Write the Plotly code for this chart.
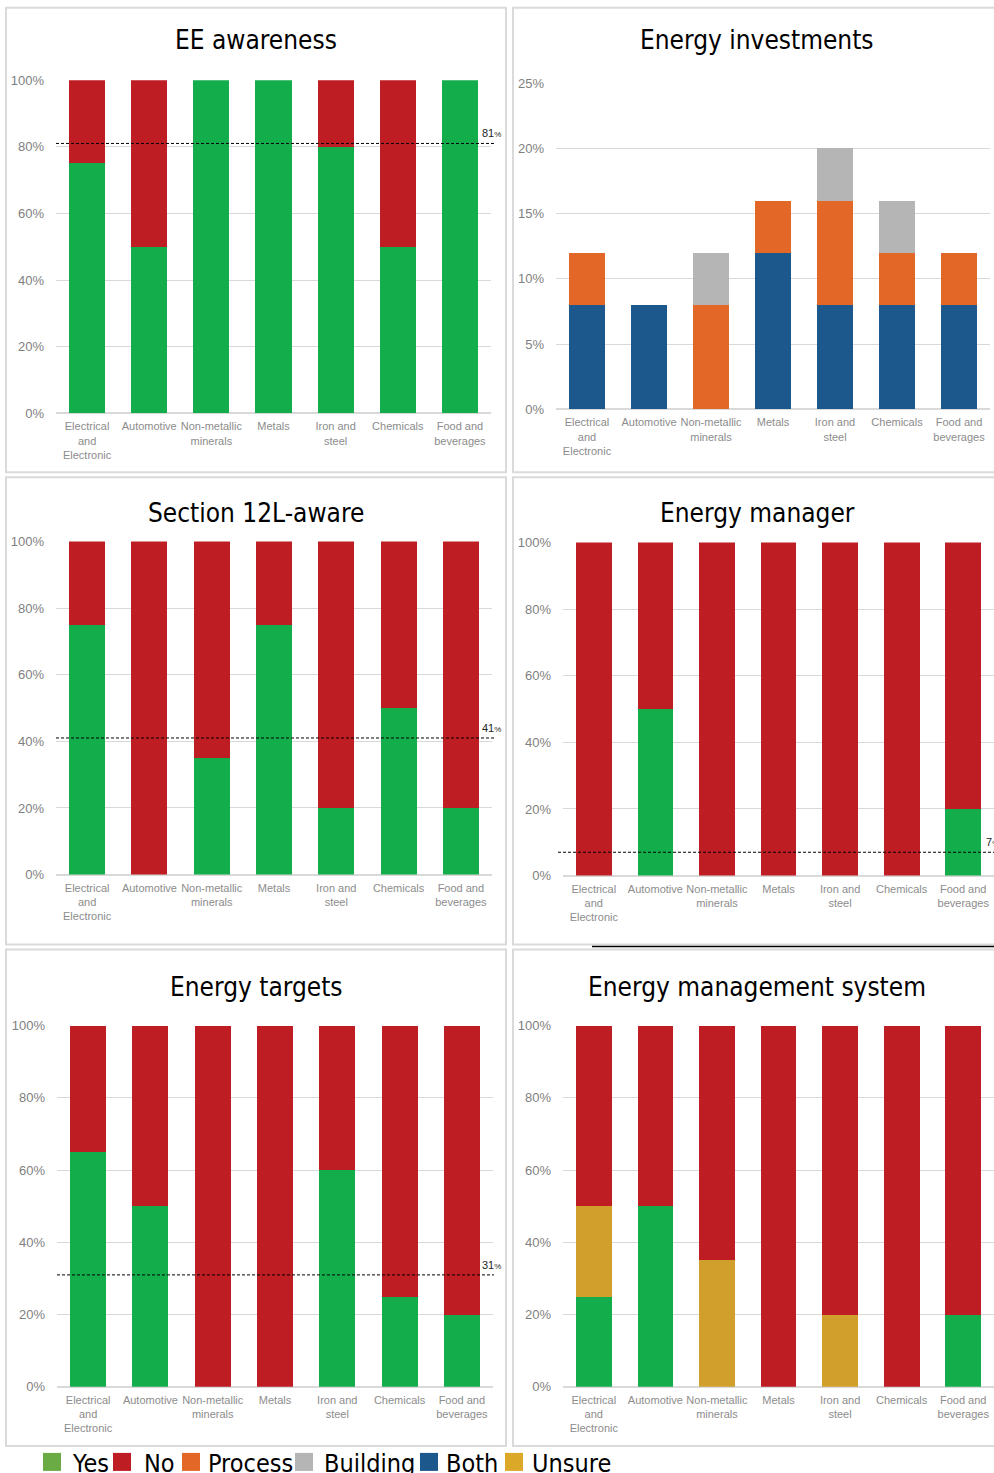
import plotly.graph_objects as go

W, H = 994, 1473

# ---- data ----
categories = ["Electrical<br>and<br>Electronic", "Automotive", "Non-metallic<br>minerals",
              "Metals", "Iron and<br>steel", "Chemicals", "Food and<br>beverages"]

ee_yes = [75, 50, 100, 100, 80, 50, 100]
ee_no = [25, 50, 0, 0, 20, 50, 0]
ee_avg = 81

inv_both = [8, 8, 0, 12, 8, 8, 8]
inv_process = [4, 0, 8, 4, 8, 4, 4]
inv_building = [0, 0, 4, 0, 4, 4, 0]

s12l_yes = [75, 0, 35, 75, 20, 50, 20]
s12l_no = [25, 100, 65, 25, 80, 50, 80]
s12l_avg = 41

mgr_yes = [0, 50, 0, 0, 0, 0, 20]
mgr_no = [100, 50, 100, 100, 100, 100, 80]
mgr_avg = 7

tgt_yes = [65, 50, 0, 0, 60, 25, 20]
tgt_no = [35, 50, 100, 100, 40, 75, 80]
tgt_avg = 31

ems_yes = [25, 50, 0, 0, 0, 0, 20]
ems_unsure = [25, 0, 35, 0, 20, 0, 0]
ems_no = [50, 50, 65, 100, 80, 100, 80]

legend_labels = ["Yes", "No", "Process", "Building", "Both", "Unsure"]

# ---- styling ----
GREEN = "#13AD4C"
RED = "#BD1D23"
ORANGE = "#E36727"
GREY = "#B5B5B5"
BLUE = "#1D588D"
GOLD = "#D19F2B"
legend_colors = ["#6AAB45", "#BD1D23", "#E36727", "#B5B5B5", "#1D588D", "#DCA828"]

TITLE_FONT = "DejaVu Sans Condensed, DejaVu Sans, sans-serif"
TICK_FONT = "Liberation Sans, Arial, sans-serif"

# page offset/scale of the rendered page (body margin around the plot div)
PAGE_SCALE = 1473 / 1489
PAGE_TOP = 8


def px_x(v):
    return v / W


def px_y(v):
    # convert a pixel row on the final page into paper coordinates
    fig_px = v / PAGE_SCALE - PAGE_TOP
    return 1 - fig_px / H


# panel layout in pixels: border box, plot x-range, plot y-range, title centre
panels = [
    dict(box=(6, 5, 506, 473), xd=(56, 491), yd=(414, 81), tc=(256, 41), title="EE awareness", ymax=100, dtick=20),
    dict(box=(513, 5, 1000, 473), xd=(556, 990), yd=(410, 84), tc=(757, 41), title="Energy investments", ymax=25, dtick=5),
    dict(box=(6, 478, 506, 945), xd=(56, 492), yd=(875, 542), tc=(256, 514), title="Section 12L-aware", ymax=100, dtick=20),
    dict(box=(513, 478, 1000, 945), xd=(563, 994), yd=(876, 543), tc=(757, 514), title="Energy manager", ymax=100, dtick=20),
    dict(box=(6, 950, 506, 1446), xd=(57, 493), yd=(1387, 1026), tc=(256, 987), title="Energy targets", ymax=100, dtick=20),
    dict(box=(513, 950, 1000, 1446), xd=(563, 994), yd=(1387, 1026), tc=(757, 987), title="Energy management system", ymax=100, dtick=20),
]

fig = go.Figure()


def add_stack(idx, values, color):
    ax = "" if idx == 0 else str(idx + 1)
    fig.add_trace(go.Bar(x=categories, y=values, marker=dict(color=color, line=dict(width=0)),
                         width=0.58, xaxis="x" + ax, yaxis="y" + ax, showlegend=False,
                         hoverinfo="skip"))


add_stack(0, ee_yes, GREEN)
add_stack(0, ee_no, RED)
add_stack(1, inv_both, BLUE)
add_stack(1, inv_process, ORANGE)
add_stack(1, inv_building, GREY)
add_stack(2, s12l_yes, GREEN)
add_stack(2, s12l_no, RED)
add_stack(3, mgr_yes, GREEN)
add_stack(3, mgr_no, RED)
add_stack(4, tgt_yes, GREEN)
add_stack(4, tgt_no, RED)
add_stack(5, ems_yes, GREEN)
add_stack(5, ems_unsure, GOLD)
add_stack(5, ems_no, RED)

shapes = []
annotations = []
layout = dict(width=W, height=H, margin=dict(l=0, r=0, t=0, b=0), barmode="stack",
              plot_bgcolor="white", paper_bgcolor="white", showlegend=False)

for i, p in enumerate(panels):
    ax = "" if i == 0 else str(i + 1)
    x0, y0, x1, y1 = p["box"]
    shapes.append(dict(type="rect", xref="paper", yref="paper", x0=px_x(x0), x1=px_x(x1),
                       y0=px_y(y1), y1=min(px_y(y0), 0.9995), line=dict(color="#DADADA", width=2),
                       layer="below"))
    layout["xaxis" + ax] = dict(domain=[px_x(p["xd"][0]), min(1, px_x(p["xd"][1]))],
                                anchor="y" + ax, type="category", showgrid=False,
                                showline=False, ticks="", tickangle=0, ticklabelstandoff=5,
                                tickfont=dict(family=TICK_FONT, size=11, color="#8C8C8C"),
                                range=[-0.5, 6.5], fixedrange=True)
    layout["yaxis" + ax] = dict(domain=[px_y(p["yd"][0]), px_y(p["yd"][1])],
                                anchor="x" + ax, range=[0, p["ymax"]], dtick=p["dtick"],
                                ticksuffix="%", showgrid=True, gridcolor="#D9D9D9", gridwidth=1,
                                zeroline=True, zerolinecolor="#D9D9D9", zerolinewidth=2,
                                ticks="", ticklabelstandoff=11,
                                tickfont=dict(family=TICK_FONT, size=13, color="#7F7F7F"),
                                fixedrange=True)
    annotations.append(dict(text=p["title"], xref="paper", yref="paper",
                            x=px_x(p["tc"][0]), y=px_y(p["tc"][1]), xanchor="center", yanchor="middle",
                            showarrow=False, font=dict(family=TITLE_FONT, size=26, color="#000000")))

# average reference lines
averages = [(0, ee_avg, 494), (2, s12l_avg, 494), (3, mgr_avg, 994), (4, tgt_avg, 494)]
for i, val, xend in averages:
    ax = "" if i == 0 else str(i + 1)
    p = panels[i]
    xstart = p["xd"][0] if i != 3 else 558
    shapes.append(dict(type="line", xref="paper", yref="y" + ax, x0=px_x(xstart), x1=px_x(xend),
                       y0=val, y1=val, line=dict(color="#000000", width=1, dash="3px,2px")))
    annotations.append(dict(text=f"{val}<span style='font-size:8px'>%</span>", xref="paper", yref="y" + ax,
                            x=px_x(xend - 14 if i != 3 else 984), y=val, xanchor="left", yanchor="bottom",
                            yshift=2, showarrow=False,
                            font=dict(family=TICK_FONT, size=11, color="#262626")))

# stray rule below the energy manager panel
shapes.append(dict(type="line", xref="paper", yref="paper", x0=px_x(592), x1=1,
                   y0=px_y(947), y1=px_y(947), line=dict(color="#000000", width=1.5)))

# legend row
leg_sq = [43, 113, 182, 295, 420, 505]
leg_tx = [70, 142, 206, 322, 444, 530]
for lab, col, sx, tx in zip(legend_labels, legend_colors, leg_sq, leg_tx):
    shapes.append(dict(type="rect", xref="paper", yref="paper", x0=px_x(sx), x1=px_x(sx + 18),
                       y0=px_y(1471), y1=px_y(1453), fillcolor=col, line=dict(width=0)))
    annotations.append(dict(text=lab, xref="paper", yref="paper", x=px_x(tx), y=px_y(1464),
                            xanchor="left", yanchor="middle", showarrow=False,
                            font=dict(family=TITLE_FONT, size=25, color="#000000")))

layout["shapes"] = shapes
layout["annotations"] = annotations
fig.update_layout(**layout)

fig.write_html("out.html")
